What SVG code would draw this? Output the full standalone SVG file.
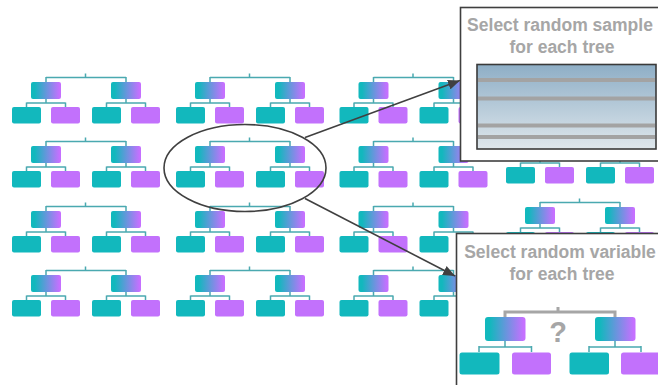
<svg xmlns="http://www.w3.org/2000/svg" xmlns:xlink="http://www.w3.org/1999/xlink" width="658" height="385" viewBox="0 0 658 385">
  <style>
    .ln { fill: none; stroke: #4aa9b0; stroke-width: 1.5; }
    .gl { fill: none; stroke: #a6a6a6; stroke-width: 3; }
    .par { fill: url(#pg); }
    .tl { fill: #12b8bd; }
    .pu { fill: #c271fc; }
    .panel { fill: #ffffff; stroke: #3f3f3f; stroke-width: 1.6; }
    .cap { font-family: "Liberation Sans", Arial, sans-serif; font-weight: bold; font-size: 17.5px; fill: #a6a6a6; text-anchor: middle; }
    .arrow { fill: none; stroke: #404040; stroke-width: 1.6; }
    .band { stroke: #a3a3a3; stroke-width: 4; }
  </style>
  <defs>
    <linearGradient id="pg" x1="0" y1="0" x2="1" y2="0">
      <stop offset="0.12" stop-color="#12b8bd"/>
      <stop offset="0.95" stop-color="#c570ff"/>
    </linearGradient>
    <linearGradient id="sky" x1="0" y1="0" x2="0" y2="1">
      <stop offset="0" stop-color="#8eaec6"/>
      <stop offset="1" stop-color="#dfe7ec"/>
    </linearGradient>
    <marker id="ah" markerUnits="userSpaceOnUse" markerWidth="12" markerHeight="10" refX="12" refY="5" orient="auto">
      <path d="M0,0 L12,5 L0,10 z" fill="#404040"/>
    </marker>
    <!-- one decision tree: root, two split nodes, four leaves -->
    <g id="tree">
      <path class="ln" d="M85.5 73.5V77.5 M46 77.5H126 M46 77V82 M126 77V82 M46 99V103 M26.5 103H65.5 M26.5 102.5V107 M65.5 102.5V107 M126 99V103 M106.5 103H145.5 M106.5 102.5V107 M145.5 102.5V107"/>
      <rect class="par" x="31" y="82" width="30" height="17" rx="2"/>
      <rect class="par" x="111" y="82" width="30" height="17" rx="2"/>
      <rect class="tl" x="12" y="107" width="29" height="16.5" rx="2"/>
      <rect class="pu" x="51" y="107" width="29" height="16.5" rx="2"/>
      <rect class="tl" x="92" y="107" width="29" height="16.5" rx="2"/>
      <rect class="pu" x="131" y="107" width="29" height="16.5" rx="2"/>
    </g>
  </defs>

  <rect width="658" height="385" fill="#ffffff"/>

  <!-- forest of trees -->
  <g id="tree-r1c1"><use xlink:href="#tree" href="#tree"/></g>
  <g id="tree-r1c2"><use xlink:href="#tree" href="#tree" transform="translate(164 0)"/></g>
  <g id="tree-r1c3"><use xlink:href="#tree" href="#tree" transform="translate(327.5 0)"/></g>
  <g id="tree-r2c1"><use xlink:href="#tree" href="#tree" transform="translate(0 64)"/></g>
  <g id="tree-r2c2"><use xlink:href="#tree" href="#tree" transform="translate(164 64)"/></g>
  <g id="tree-r2c3"><use xlink:href="#tree" href="#tree" transform="translate(327.5 64)"/></g>
  <g id="tree-r2c4"><use xlink:href="#tree" href="#tree" transform="translate(494 60)"/></g>
  <g id="tree-r3c1"><use xlink:href="#tree" href="#tree" transform="translate(0 129)"/></g>
  <g id="tree-r3c2"><use xlink:href="#tree" href="#tree" transform="translate(164 129)"/></g>
  <g id="tree-r3c3"><use xlink:href="#tree" href="#tree" transform="translate(327.5 129)"/></g>
  <g id="tree-r3c4"><use xlink:href="#tree" href="#tree" transform="translate(494 125)"/></g>
  <g id="tree-r4c1"><use xlink:href="#tree" href="#tree" transform="translate(0 193)"/></g>
  <g id="tree-r4c2"><use xlink:href="#tree" href="#tree" transform="translate(164 193)"/></g>
  <g id="tree-r4c3"><use xlink:href="#tree" href="#tree" transform="translate(327.5 193)"/></g>

  <!-- highlight around one tree -->
  <g id="highlight">
    <ellipse cx="245" cy="168" rx="81" ry="43.5" fill="none" stroke="#404040" stroke-width="1.6"/>
  </g>

  <!-- panel: random sample of rows -->
  <g id="sample-panel">
    <rect class="panel" x="460.5" y="7.5" width="220" height="153.5"/>
    <text class="cap" x="560" y="31">Select random sample</text>
    <text class="cap" x="562" y="52.5">for each tree</text>
    <rect x="477" y="64.5" width="179" height="84.5" fill="url(#sky)" stroke="#3a3a3a" stroke-width="1.6"/>
    <line class="band" x1="478" y1="80" x2="655" y2="80"/>
    <line class="band" x1="478" y1="98.5" x2="655" y2="98.5"/>
    <line class="band" x1="478" y1="125.5" x2="655" y2="125.5"/>
    <line class="band" x1="478" y1="137" x2="655" y2="137"/>
  </g>

  <!-- panel: random variable per split -->
  <g id="variable-panel">
    <rect class="panel" x="456.5" y="233.5" width="220" height="170"/>
    <text class="cap" x="560" y="257.5">Select random variable</text>
    <text class="cap" x="562" y="279.5">for each tree</text>
    <path class="gl" d="M558 307V312 M505 312H615 M505 310.5V317 M615 310.5V317"/>
    <path class="ln" d="M505 341V347 M479 347H531.5 M479 346V352 M531.5 346V352 M615 341V347 M589 347H641 M589 346V352 M641 346V352"/>
    <rect class="par" x="485" y="317" width="40.5" height="24" rx="3"/>
    <rect class="par" x="595" y="317" width="40.5" height="24" rx="3"/>
    <text x="558" y="342" font-family="Liberation Sans, Arial, sans-serif" font-weight="bold" font-size="29" fill="#a6a6a6" text-anchor="middle">?</text>
    <rect class="tl" x="459.5" y="352.5" width="40" height="22" rx="2.5"/>
    <rect class="pu" x="512" y="352.5" width="39" height="22" rx="2.5"/>
    <rect class="tl" x="569.5" y="352.5" width="39.5" height="22" rx="2.5"/>
    <rect class="pu" x="621" y="352.5" width="40" height="22" rx="2.5"/>
  </g>

  <!-- connectors -->
  <g id="connectors">
    <line class="arrow" x1="305" y1="137.5" x2="460" y2="80.5" marker-end="url(#ah)"/>
    <line class="arrow" x1="305" y1="198.5" x2="455" y2="276" marker-end="url(#ah)"/>
  </g>
</svg>
